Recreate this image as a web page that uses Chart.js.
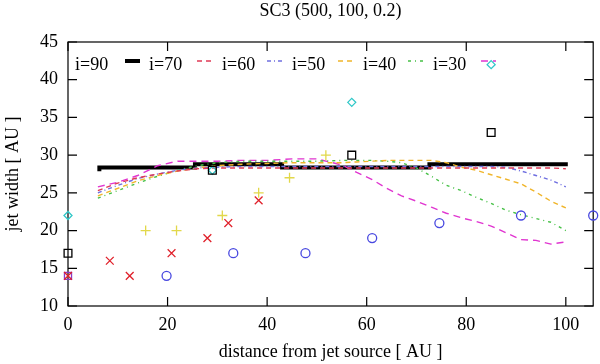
<!DOCTYPE html>
<html>
<head>
<meta charset="utf-8">
<title>SC3 jet width</title>
<script src="https://cdn.jsdelivr.net/npm/chart.js@4.4.0/dist/chart.umd.min.js"></script>
<style>
  body { margin: 0; background: #fff; }
</style>
</head>
<body>
<canvas id="chart" width="600" height="364"></canvas>
<script>
// model curves, all sampled on the same x grid
const lineX = [6, 10, 14, 18, 22, 26, 30, 35, 40, 45, 50, 55, 58, 61, 64, 67, 70, 73, 76, 79, 82, 85, 88, 91, 94, 97, 100];
const i70Y = [25.3, 26.3, 27.0, 27.5, 27.9, 28.2, 28.3, 28.3, 28.3, 28.3, 28.3, 28.3, 28.3, 28.3, 28.3, 28.3, 28.3, 28.3, 28.3, 28.3, 28.3, 28.3, 28.3, 28.3, 28.3, 28.3, 28.2];
const i60Y = [25.0, 26.0, 26.9, 27.5, 28.0, 28.3, 28.4, 28.5, 28.5, 28.5, 28.5, 28.5, 28.5, 28.5, 28.5, 28.5, 28.5, 28.5, 28.5, 28.5, 28.5, 28.5, 28.4, 27.9, 27.3, 26.7, 25.8];
const i50Y = [24.6, 25.6, 26.6, 27.3, 27.9, 28.3, 28.6, 28.8, 28.9, 29.0, 29.0, 29.0, 29.1, 29.2, 29.3, 29.3, 29.3, 29.3, 29.0, 28.4, 28.0, 27.4, 26.8, 26.2, 25.1, 23.9, 23.0];
const i40Y = [24.3, 25.3, 26.3, 27.2, 28.0, 28.6, 29.0, 29.2, 29.2, 29.2, 29.2, 29.3, 29.3, 29.3, 29.2, 29.0, 28.3, 27.2, 26.0, 25.3, 24.4, 23.6, 22.7, 22.1, 21.6, 21.1, 20.0];
const i30Y = [25.8, 26.4, 27.3, 28.6, 29.2, 29.2, 29.2, 29.3, 29.3, 29.5, 29.5, 28.7, 27.7, 26.8, 25.6, 24.6, 23.9, 23.1, 22.3, 21.7, 21.2, 20.6, 19.7, 18.8, 18.7, 18.2, 18.5];

// i=90 is a step curve
const i90X = [6.3, 25.5, 43, 72.6, 89, 100.4];
const i90Y = [27.85, 28.35, 28.8, 28.35, 28.8, 28.8];

// measured points
const squareX = [0, 29, 57, 85];
const squareY = [17, 28, 30, 33];
const diamondX = [0, 29, 57, 85];
const diamondY = [22, 28, 37, 42];
const crossX = [0, 8.4, 12.4, 20.8, 28, 32.2, 38.3];
const crossY = [14, 16, 14, 17, 19, 21, 24];
const plusX = [15.6, 21.8, 31, 38.3, 44.5, 51.8];
const plusY = [20, 20, 22, 25, 27, 30];
const circleX = [19.8, 33.2, 47.7, 61.1, 74.6, 91, 105.5];
const circleY = [14, 17, 17, 19, 21, 22, 22];
const purpleX = [0];
const purpleY = [14];

const xTicks = [0, 20, 40, 60, 80, 100];
const yTicks = [10, 15, 20, 25, 30, 35, 40, 45];

const FONT = 'Liberation Serif';

const toPoints = (xs, ys) => xs.map((x, i) => ({ x: x, y: ys[i] }));

// a dashed model curve
const curve = (label, ys, color, dash) => ({
    label: label,
    data: toPoints(lineX, ys),
    showLine: true,
    borderColor: color,
    borderWidth: 1.4,
    borderDash: dash,
    pointRadius: 0,
    order: 5
});

// a set of markers without line
const markers = (xs, ys, style, radius, color) => ({
    data: toPoints(xs, ys),
    showLine: false,
    pointStyle: style,
    pointRadius: radius,
    borderColor: color,
    backgroundColor: 'transparent',
    pointBorderWidth: 1.3,
    clip: false,
    order: 1
});

const datasets = [
    {
        label: 'i=90',
        data: toPoints(i90X, i90Y),
        showLine: true,
        stepped: 'after',
        borderColor: '#000',
        borderWidth: 4,
        pointRadius: 0,
        order: 10
    },
    curve('i=70', i70Y, '#e03a55', [5, 4]),
    curve('i=60', i60Y, '#6f6fe0', [4, 3, 1, 3]),
    curve('i=50', i50Y, '#f0b52a', [5, 4]),
    curve('i=40', i40Y, '#45c045', [3, 4, 1, 4]),
    curve('i=30', i30Y, '#e035d0', [7, 5]),
    markers(squareX, squareY, 'rect', 5.5, '#000'),
    markers(diamondX, diamondY, 'rectRot', 4, '#30c8c8'),
    markers(crossX, crossY, 'crossRot', 5.5, '#e0202a'),
    markers(plusX, plusY, 'cross', 5, '#e2d84a'),
    markers(circleX, circleY, 'circle', 4.5, '#4848e0'),
    markers(purpleX, purpleY, 'rect', 5, '#8a3cc8')
];

// gnuplot style frame with inward ticks, plus the key inside the plot
const legendTextX = [75, 149, 222, 292, 363, 433];
const legendSampleX = [125, 197, 267, 338, 408, 481];

const framePlugin = {
    id: 'frame',
    beforeDatasetsDraw(chart) {
        const { ctx, chartArea: a, scales: { x, y } } = chart;
        ctx.save();
        ctx.strokeStyle = '#000';
        ctx.lineWidth = 1.2;
        ctx.strokeRect(a.left, a.top, a.right - a.left, a.bottom - a.top);
        ctx.beginPath();
        xTicks.forEach(v => {
            const px = x.getPixelForValue(v);
            ctx.moveTo(px, a.bottom); ctx.lineTo(px, a.bottom - 9);
            ctx.moveTo(px, a.top); ctx.lineTo(px, a.top + 9);
        });
        yTicks.forEach(v => {
            const py = y.getPixelForValue(v);
            ctx.moveTo(a.left, py); ctx.lineTo(a.left + 9, py);
            ctx.moveTo(a.right, py); ctx.lineTo(a.right - 9, py);
        });
        ctx.stroke();

        // key
        ctx.font = '18px "' + FONT + '"';
        ctx.fillStyle = '#000';
        ctx.textBaseline = 'alphabetic';
        chart.data.datasets.slice(0, 6).forEach((ds, i) => {
            ctx.fillText(ds.label, legendTextX[i], 70);
            ctx.beginPath();
            ctx.strokeStyle = ds.borderColor;
            ctx.lineWidth = ds.borderWidth === 4 ? 4 : 1.6;
            ctx.setLineDash(ds.borderDash || []);
            ctx.moveTo(legendSampleX[i], 61);
            ctx.lineTo(legendSampleX[i] + 15, 61);
            ctx.stroke();
        });
        ctx.restore();
    }
};

new Chart(document.getElementById('chart'), {
    type: 'scatter',
    data: { datasets: datasets },
    options: {
        responsive: false,
        animation: false,
        layout: { padding: { right: 6 } },
        plugins: {
            legend: { display: false },
            tooltip: { enabled: false },
            title: {
                display: true,
                text: 'SC3 (500, 100, 0.2)',
                fullSize: false,
                color: '#000',
                font: { family: FONT, size: 18, weight: 'normal' },
                padding: { top: 0, bottom: 20.4 }
            }
        },
        scales: {
            x: {
                min: 0,
                max: 105.5,
                grid: { display: false, drawTicks: false },
                border: { display: false },
                ticks: {
                    stepSize: 20,
                    includeBounds: false,
                    padding: 8,
                    color: '#000',
                    font: { family: FONT, size: 18 }
                },
                title: {
                    display: true,
                    text: 'distance from jet source [ AU ]',
                    color: '#000',
                    font: { family: FONT, size: 18 },
                    padding: { top: 0, bottom: 1 }
                },
                afterFit(scale) { scale.height = 58; }
            },
            y: {
                min: 10,
                max: 45,
                grid: { display: false, drawTicks: false },
                border: { display: false },
                ticks: {
                    stepSize: 5,
                    padding: 10,
                    color: '#000',
                    font: { family: FONT, size: 18 }
                },
                title: {
                    display: true,
                    text: 'jet width [ AU ]',
                    color: '#000',
                    font: { family: FONT, size: 18 },
                    padding: { top: 2, bottom: 0 }
                },
                afterFit(scale) { scale.width = 68; }
            }
        }
    },
    plugins: [framePlugin]
});
</script>
</body>
</html>
